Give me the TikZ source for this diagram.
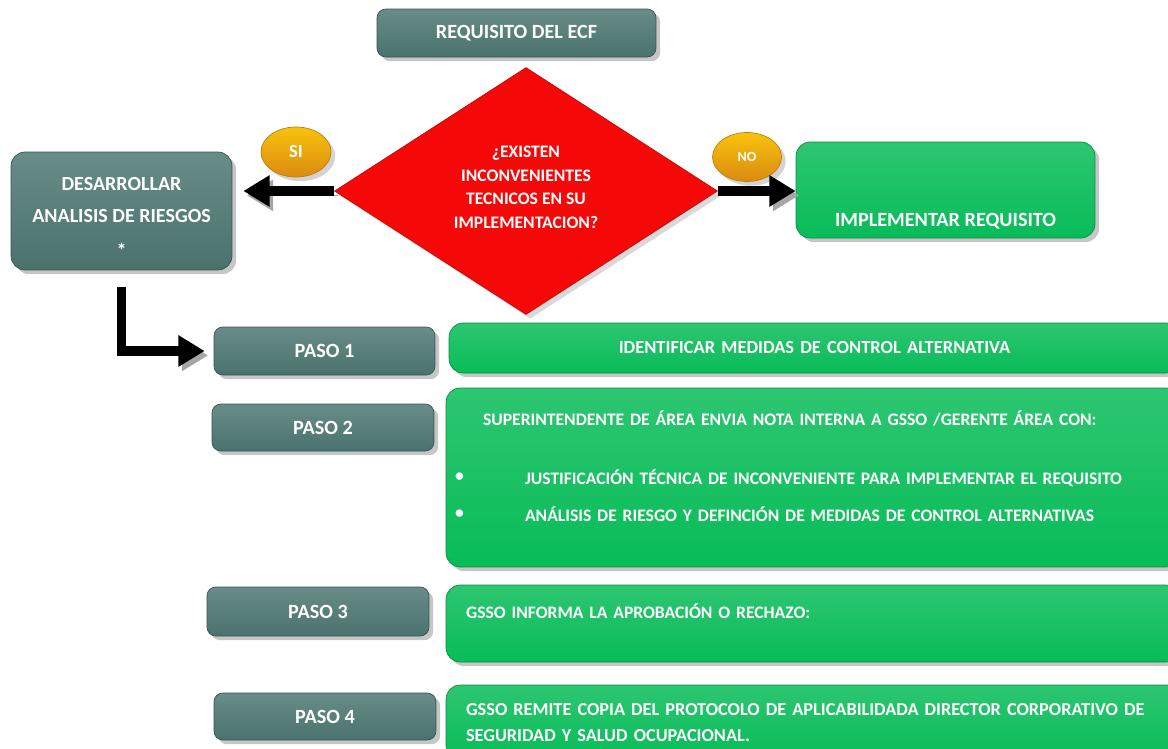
\documentclass[tikz,border=0pt]{standalone}
\usepackage{fontspec}
\setmainfont{Carlito}
\usetikzlibrary{shapes.geometric,arrows.meta,positioning,shadows}

\definecolor{tealbox}{HTML}{4E7873}
\definecolor{greenbox}{HTML}{08BC58}
\definecolor{redbox}{HTML}{F70808}
\definecolor{orangebox}{HTML}{F39A12}

\tikzset{
	pasobox/.style={rectangle, rounded corners=5pt, top color=tealbox!85!white, bottom color=tealbox!95!black, draw=tealbox!70!black, text=white, font=\bfseries\fontsize{11.5}{12}\selectfont, align=center, drop shadow={opacity=0.45}},
	accionbox/.style={rectangle, rounded corners=8pt, top color=greenbox!85!white, bottom color=greenbox, draw=greenbox!75!black, text=white, font=\bfseries\fontsize{10}{21}\selectfont, inner xsep=0.4cm, drop shadow={opacity=0.45}},
	etiqueta/.style={ellipse, top color=orangebox!60!yellow, bottom color=orangebox!90!black, draw=orangebox!80!black, text=white, font=\bfseries\fontsize{10.5}{12}\selectfont, drop shadow={opacity=0.35}},
	flecha/.style={line width=5.5pt, -{Triangle[length=15pt,width=17pt]}, preaction={draw=black!35, transform canvas={xshift=2pt,yshift=-2.5pt}}}
}

\begin{document}
\begin{tikzpicture}[x=0.02cm, y=-0.02cm]
	\useasboundingbox (0,0) rectangle (1168,748);

	% cabecera y decision
	\node[pasobox, minimum width=5.58cm, minimum height=0.96cm] (req) at (516.5,33) {REQUISITO DEL ECF};
	\node[diamond, fill=redbox, draw=redbox!80!black, drop shadow={opacity=0.3}, text=white, font=\bfseries\fontsize{10}{13.3}\selectfont, align=center, aspect=1.55, inner sep=0pt, minimum width=7.66cm, minimum height=4.94cm] (cond) at (526,191) {¿EXISTEN\\INCONVENIENTES\\TECNICOS EN SU\\IMPLEMENTACION?\\[-9pt]\mbox{}};
	\node[etiqueta, minimum width=1.4cm, minimum height=1.0cm] (si) at (296,152) {SI};
	\node[etiqueta, font=\bfseries\fontsize{8}{10}\selectfont, minimum width=1.38cm, minimum height=0.98cm] (no) at (747,157) {NO};

	\node[pasobox, rounded corners=8pt, font=\bfseries\fontsize{11.4}{18}\selectfont, minimum width=4.42cm, minimum height=2.36cm] (dar) at (121.5,211) {\mbox{}\\[-3pt]DESARROLLAR\\ANALISIS DE RIESGOS\\[2pt]*};
	\node[accionbox, font=\bfseries\fontsize{11.5}{12}\selectfont, align=center, minimum width=5.98cm, minimum height=1.92cm] (impl) at (945.5,190) {\mbox{}\\[31pt]IMPLEMENTAR REQUISITO};

	% pasos
	\node[pasobox, minimum width=4.42cm, minimum height=0.96cm] (p1) at (324.5,351) {PASO 1};
	\node[pasobox, minimum width=4.44cm, minimum height=0.94cm] (p2) at (323,427.5) {PASO 2};
	\node[pasobox, minimum width=4.44cm, minimum height=0.98cm] (p3) at (318,611.5) {PASO 3};
	\node[pasobox, minimum width=4.44cm, minimum height=0.94cm] (p4) at (325,716.5) {PASO 4};

	\node[accionbox, align=center, font=\bfseries\fontsize{10.5}{12}\selectfont, text width=13.82cm, minimum width=14.62cm, minimum height=1.0cm] (a1) at (814.5,348) {IDENTIFICAR MEDIDAS DE CONTROL ALTERNATIVA};
	\node[accionbox, align=left, text width=13.88cm, minimum width=14.68cm, minimum height=3.58cm] (a2) at (813,477.5) {
		\hspace*{0.34cm}SUPERINTENDENTE DE ÁREA ENVIA NOTA INTERNA A GSSO /GERENTE ÁREA CON:\\[12.5pt]
		\hspace*{-0.22cm}\makebox[1.4cm][l]{\raisebox{1.5pt}{\textbullet}}JUSTIFICACIÓN TÉCNICA DE INCONVENIENTE PARA IMPLEMENTAR EL REQUISITO\\
		\hspace*{-0.22cm}\makebox[1.4cm][l]{\raisebox{1.5pt}{\textbullet}}ANÁLISIS DE RIESGO Y DEFINCIÓN DE MEDIDAS DE CONTROL ALTERNATIVAS\\[-8pt]\mbox{}};
	\node[accionbox, align=left, text width=13.88cm, minimum width=14.68cm, minimum height=1.54cm] (a3) at (813,623.5) {GSSO INFORMA LA APROBACIÓN O RECHAZO:\\[-7pt]\mbox{}};
	\node[accionbox, align=left, text width=13.88cm, minimum width=14.68cm, minimum height=1.5cm, font=\bfseries\fontsize{10.4}{15}\selectfont] (a4) at (813,722.5) {GSSO REMITE COPIA DEL PROTOCOLO DE APLICABILIDADA DIRECTOR CORPORATIVO DE\\SEGURIDAD Y SALUD OCUPACIONAL.};

	% flechas
	\draw[flecha, shorten >=0.22cm] (cond.west) -- (cond.west -| dar.east);
	\draw[flecha] (cond.east) -- (cond.east -| impl.west);
	\draw[flecha, shorten <=0.34cm, shorten >=0.18cm] (dar.south) |- (p1.west);
\end{tikzpicture}
\end{document}
